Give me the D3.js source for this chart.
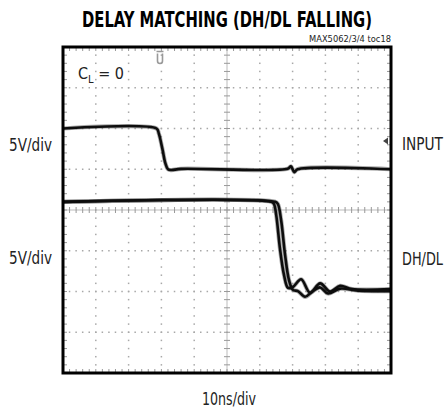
<!DOCTYPE html>
<html>
<head>
<meta charset="utf-8">
<script src="https://cdn.jsdelivr.net/npm/d3@7"></script>
<style>
  body { margin: 0; background: #fff; }
  text { font-family: "Liberation Sans Narrow", "DejaVu Sans Condensed", sans-serif; fill: #222; }
</style>
</head>
<body>
<div id="chart-container"></div>
<script>
// scope traces: time in ns (10ns/div, 10 divs), level in divisions (8 divs, centre = 0)
const inputT = [0, 28.5, 29.2, 30.3, 31.2, 32.0, 33.0, 36, 68.5, 69.5, 70.5, 71.5, 100];
const inputV = [2.0, 2.0, 1.88, 1.5, 1.15, 1.0, 0.98, 1.01, 1.01, 1.07, 0.93, 1.0, 1.0];

const dh1T = [0, 63.5, 64.3, 65.0, 66.2, 67.4, 68.6, 70.1, 72.6, 75.3, 78.4, 81.4, 84.5, 88.1, 100];
const dh1V = [0.2, 0.2, 0.15, -0.12, -0.98, -1.6, -1.91, -1.89, -1.7, -2.03, -1.8, -2.0, -1.86, -1.94, -1.94];

const dh2T = [0, 64.7, 65.5, 66.5, 67.7, 68.9, 70.1, 71.6, 73.8, 75.9, 78.4, 80.8, 84.5, 90, 100];
const dh2V = [0.2, 0.2, 0.15, -0.25, -1.1, -1.72, -1.96, -1.99, -2.13, -2.01, -1.9, -2.05, -1.93, -1.98, -1.99];

const xDivs = 10, yDivs = 8, minorPerDiv = 5;

const W = 446, H = 410;
const frame = { left: 63, right: 391, top: 47, bottom: 373 };

const svg = d3.select("#chart-container")
    .append("svg")
    .attr("width", W)
    .attr("height", H);

const x = d3.scaleLinear().domain([0, 100]).range([frame.left, frame.right]);
const y = d3.scaleLinear().domain([-yDivs / 2, yDivs / 2]).range([frame.bottom, frame.top]);
const xDiv = d => x(d * 10);
const yDiv = d => y(d - yDivs / 2);

const grid = svg.append("g");

// dotted graticule
const minorX = d3.range(0, xDivs * minorPerDiv + 1).map(i => i / minorPerDiv);
const minorY = d3.range(0, yDivs * minorPerDiv + 1).map(i => i / minorPerDiv);

d3.range(1, xDivs).filter(i => i !== xDivs / 2).forEach(i => {
    grid.selectAll(null).data(minorY).enter().append("rect")
        .attr("x", xDiv(i) - 0.75).attr("y", d => yDiv(d) - 0.75)
        .attr("width", 1.5).attr("height", 1.5).attr("fill", "#a8a8a8");
});
d3.range(1, yDivs).filter(j => j !== yDivs / 2).forEach(j => {
    grid.selectAll(null).data(minorX).enter().append("rect")
        .attr("x", d => xDiv(d) - 0.75).attr("y", yDiv(j) - 0.75)
        .attr("width", 1.5).attr("height", 1.5).attr("fill", "#a8a8a8");
});

// centre cross with minor ticks
grid.append("line")
    .attr("x1", frame.left).attr("x2", frame.right)
    .attr("y1", yDiv(yDivs / 2)).attr("y2", yDiv(yDivs / 2))
    .attr("stroke", "#bbb").attr("stroke-width", 1);
grid.append("line")
    .attr("y1", frame.top).attr("y2", frame.bottom)
    .attr("x1", xDiv(xDivs / 2)).attr("x2", xDiv(xDivs / 2))
    .attr("stroke", "#bbb").attr("stroke-width", 1);

grid.selectAll(null).data(minorX).enter().append("line")
    .attr("x1", d => xDiv(d)).attr("x2", d => xDiv(d))
    .attr("y1", yDiv(4) - 3).attr("y2", yDiv(4) + 3)
    .attr("stroke", "#999");
grid.selectAll(null).data(minorY).enter().append("line")
    .attr("y1", d => yDiv(d)).attr("y2", d => yDiv(d))
    .attr("x1", xDiv(5) - 3).attr("x2", xDiv(5) + 3)
    .attr("stroke", "#999");

// edge ticks
[frame.top, frame.bottom].forEach((yy, k) => {
    grid.selectAll(null).data(minorX).enter().append("line")
        .attr("x1", d => xDiv(d)).attr("x2", d => xDiv(d))
        .attr("y1", yy).attr("y2", yy + (k ? -4 : 4))
        .attr("stroke", "#999");
});
[frame.left, frame.right].forEach((xx, k) => {
    grid.selectAll(null).data(minorY).enter().append("line")
        .attr("y1", d => yDiv(d)).attr("y2", d => yDiv(d))
        .attr("x1", xx).attr("x2", xx + (k ? -4 : 4))
        .attr("stroke", "#999");
});

// traces
const line = d3.line()
    .x(d => x(d[0]))
    .y(d => y(d[1]))
    .curve(d3.curveCatmullRom.alpha(0.5));

const traces = [
    d3.zip(inputT, inputV),
    d3.zip(dh1T, dh1V),
    d3.zip(dh2T, dh2V)
];

svg.append("g").selectAll("path.halo")
    .data(traces).enter().append("path")
    .attr("d", line).attr("fill", "none")
    .attr("stroke", "#555").attr("stroke-width", 4.2).attr("stroke-opacity", 0.5);

svg.append("g").selectAll("path.trace")
    .data(traces).enter().append("path")
    .attr("d", line).attr("fill", "none")
    .attr("stroke", "#0d0d0d").attr("stroke-width", 2.6);

// trigger markers
svg.append("path")
    .attr("d", "M156.5,51.5 h7 M157.5,53.5 v7.5 a2.5,2.5 0 0 0 5 0 v-7.5")
    .attr("fill", "none").attr("stroke", "#999").attr("stroke-width", 1.6);
svg.append("path")
    .attr("d", "M383,141 L388,137.5 L388,144.5 Z")
    .attr("fill", "#444");

// frame
svg.append("rect")
    .attr("x", frame.left).attr("y", frame.top)
    .attr("width", frame.right - frame.left)
    .attr("height", frame.bottom - frame.top)
    .attr("fill", "none").attr("stroke", "#000").attr("stroke-width", 3);

// labels: squeeze the text horizontally to the width seen in the reference
const label = (txt, xx, yy, size, len, anchor, weight) => {
    const g = svg.append("g");
    const t = g.append("text")
        .attr("text-anchor", anchor || "start")
        .style("font-size", size + "px")
        .style("font-weight", weight || "normal")
        .text(txt);
    const k = Math.min(1, len / t.node().getComputedTextLength());
    g.attr("transform", `translate(${xx},${yy}) scale(${k},1)`);
    return t;
};

label("DELAY MATCHING (DH/DL FALLING)", 227, 27, 21, 290, "middle", "bold")
    .style("fill", "#000");
label("MAX5062/3/4 toc18", 391, 41.5, 9.5, 82, "end");

const cl = svg.append("text")
    .attr("x", 78).attr("y", 79)
    .style("font-size", "16px");
cl.append("tspan").text("C");
cl.append("tspan").attr("dy", 4).style("font-size", "11px").text("L");
cl.append("tspan").attr("dy", -4).text(" = 0");

label("5V/div", 9, 151, 17, 43);
label("5V/div", 9, 264, 17, 43);
label("INPUT", 402, 150, 17, 41);
label("DH/DL", 402, 265, 17, 41);
label("10ns/div", 229, 405, 17, 54, "middle");
</script>
</body>
</html>
